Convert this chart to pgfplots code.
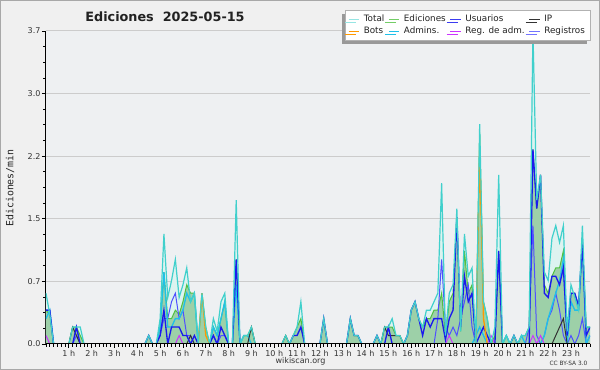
\documentclass[border=0pt]{standalone}
\usepackage{fontspec}
\setmainfont{DejaVu Sans}
\newfontfamily\monofont{DejaVu Sans Mono}
\usepackage{pgfplots}
\pgfplotsset{compat=1.18}
\usetikzlibrary{shadows,backgrounds}
\definecolor{outerbg}{HTML}{F0F0F0}
\definecolor{bordercol}{HTML}{A8A8A8}
\definecolor{plotbg}{HTML}{EEF0F2}
\definecolor{gridcol}{HTML}{CCCCCC}
\definecolor{totalline}{HTML}{40D0CC}
\definecolor{totalfill}{HTML}{DDF3F0}
\definecolor{edline}{HTML}{50C040}
\definecolor{edfill}{HTML}{92CB9C}
\definecolor{usucol}{HTML}{1A1AEE}
\definecolor{ipcol}{HTML}{333333}
\definecolor{botcol}{HTML}{FF9900}
\definecolor{admcol}{HTML}{20C0E8}
\definecolor{regadmcol}{HTML}{CC33FF}
\definecolor{regcol}{HTML}{5050FF}
\definecolor{txtcol}{HTML}{222222}
\definecolor{tickcol}{HTML}{333333}
\begin{document}
\begin{tikzpicture}
\begin{axis}[
  scale only axis, width=408pt, height=234.75pt,
  xmin=0, xmax=143, ymin=0, ymax=3.7,
  axis background/.style={fill=plotbg},
  axis x line*=bottom, axis y line*=left,
  axis line style={black, line width=0.75pt},
  tick align=outside,
  major tick length=3pt, minor tick length=2.2pt,
  every tick/.style={black, line width=0.6pt},
  xtick={6,12,...,138},
  xticklabels={1 h,2 h,3 h,4 h,5 h,6 h,7 h,8 h,9 h,10 h,11 h,12 h,13 h,14 h,15 h,16 h,17 h,18 h,19 h,20 h,21 h,22 h,23 h},
  minor xtick={0,1,...,143},
  ytick={0,0.74,1.48,2.22,2.96,3.7},
  yticklabels={0.0,0.7,1.5,2.2,3.0,3.7},
  minor y tick num=3,
  ymajorgrids, grid style={gridcol, line width=0.75pt},
  xticklabel style={font=\fontsize{6}{6}\selectfont, text=tickcol, inner ysep=1.5pt},
  yticklabel style={font=\fontsize{6}{6}\selectfont, text=tickcol, inner xsep=1pt},
  legend image code/.code={\draw[#1, line width=0.7pt] (0pt,0pt) -- (8pt,0pt);},
  legend columns=4,
  legend cell align=left,
  legend style={at={(1.001,1.067)}, anchor=north east, draw=gray!60, fill=white,
    font=\fontsize{6.6}{7}\selectfont, text=txtcol,
    column sep=1pt, row sep=-1.5pt, inner xsep=2pt, inner ysep=1.5pt,
    drop shadow={shadow xshift=-2.5pt, shadow yshift=-2.5pt, fill=gray!80, opacity=1}},
]
\addlegendimage{color=totalline!55}\addlegendentry{Total}
\addlegendimage{color=edline!80}\addlegendentry{Ediciones}
\addlegendimage{color=usucol!85}\addlegendentry{Usuarios}
\addlegendimage{color=ipcol}\addlegendentry{IP}
\addlegendimage{color=botcol}\addlegendentry{Bots}
\addlegendimage{color=admcol}\addlegendentry{Admins.}
\addlegendimage{color=regadmcol}\addlegendentry{Reg. de adm.}
\addlegendimage{color=regcol!80}\addlegendentry{Registros}

% Total fill
\addplot[draw=none, fill=totalfill, forget plot] coordinates {(0,0.6)(1,0.35)(2,0)(6,0)(7,0.2)(8,0.2)(9,0.2)(10,0)(26,0)(27,0.1)(28,0)(29,0)(30,0.3)(31,1.3)(32,0.55)(33,0.75)(34,1.0)(35,0.55)(36,0.7)(37,0.9)(38,0.5)(39,0.6)(40,0)(41,0.6)(42,0.2)(43,0)(44,0.3)(45,0.15)(46,0.5)(47,0.6)(48,0)(49,0)(50,1.7)(51,0)(52,0.1)(53,0.1)(54,0.2)(55,0)(62,0)(63,0.1)(64,0)(65,0.1)(66,0.2)(67,0.5)(68,0)(72,0)(73,0.3)(74,0)(79,0)(80,0.3)(81,0.1)(82,0.1)(83,0)(86,0)(87,0.1)(88,0)(89,0.2)(90,0.2)(91,0.3)(92,0.1)(93,0.1)(94,0)(95,0.1)(96,0.4)(97,0.5)(98,0.3)(99,0.2)(100,0.4)(101,0.4)(102,0.5)(103,0.6)(104,1.9)(105,0.1)(106,0.6)(107,0.7)(108,1.6)(109,0.15)(110,1.3)(111,0.8)(112,0.9)(113,0)(114,2.6)(115,0.5)(116,0.3)(117,0)(118,0.2)(119,2.0)(120,0)(121,0.1)(122,0)(123,0.1)(124,0)(125,0.1)(126,0.1)(127,0.2)(128,3.7)(129,1.7)(130,2.0)(131,0.85)(132,0.75)(133,1.25)(134,1.4)(135,1.2)(136,1.4)(137,0.15)(138,0.7)(139,0.55)(140,0.4)(141,1.4)(142,0.2)(143,0.2)} \closedcycle;
% Ediciones fill
\addplot[draw=none, fill=edfill, fill opacity=0.85, forget plot] coordinates {(0,0.4)(1,0.35)(2,0)(6,0)(7,0.2)(8,0.2)(9,0.1)(10,0)(26,0)(27,0.1)(28,0)(29,0)(30,0.2)(31,0.85)(32,0.3)(33,0.3)(34,0.4)(35,0.35)(36,0.5)(37,0.7)(38,0.6)(39,0.6)(40,0)(41,0.6)(42,0.2)(43,0)(44,0.2)(45,0.1)(46,0.3)(47,0.5)(48,0)(49,0)(50,1.0)(51,0)(52,0.1)(53,0.1)(54,0.2)(55,0)(62,0)(63,0.1)(64,0)(65,0.1)(66,0.2)(67,0.3)(68,0)(72,0)(73,0.3)(74,0)(79,0)(80,0.3)(81,0.1)(82,0.1)(83,0)(86,0)(87,0.1)(88,0)(89,0.2)(90,0.2)(91,0.2)(92,0.1)(93,0.1)(94,0)(95,0.1)(96,0.4)(97,0.5)(98,0.3)(99,0.2)(100,0.3)(101,0.3)(102,0.4)(103,0.4)(104,0.6)(105,0.1)(106,0.5)(107,0.6)(108,1.5)(109,0.15)(110,1.1)(111,0.6)(112,0.7)(113,0)(114,2.5)(115,0.5)(116,0.3)(117,0)(118,0.1)(119,1.1)(120,0)(121,0.1)(122,0)(123,0.1)(124,0)(125,0.1)(126,0.1)(127,0.2)(128,2.3)(129,1.6)(130,2.0)(131,0.7)(132,0.6)(133,0.8)(134,0.9)(135,0.9)(136,1.1)(137,0.1)(138,0.6)(139,0.6)(140,0.45)(141,1.2)(142,0.2)(143,0.2)} \closedcycle;
% Ediciones line
\addplot[edline, line width=0.75pt, forget plot] coordinates {(0,0.4)(1,0.35)(2,0)(6,0)(7,0.2)(8,0.2)(9,0.1)(10,0)(26,0)(27,0.1)(28,0)(29,0)(30,0.2)(31,0.85)(32,0.3)(33,0.3)(34,0.4)(35,0.35)(36,0.5)(37,0.7)(38,0.6)(39,0.6)(40,0)(41,0.6)(42,0.2)(43,0)(44,0.2)(45,0.1)(46,0.3)(47,0.5)(48,0)(49,0)(50,1.0)(51,0)(52,0.1)(53,0.1)(54,0.2)(55,0)(62,0)(63,0.1)(64,0)(65,0.1)(66,0.2)(67,0.3)(68,0)(72,0)(73,0.3)(74,0)(79,0)(80,0.3)(81,0.1)(82,0.1)(83,0)(86,0)(87,0.1)(88,0)(89,0.2)(90,0.2)(91,0.2)(92,0.1)(93,0.1)(94,0)(95,0.1)(96,0.4)(97,0.5)(98,0.3)(99,0.2)(100,0.3)(101,0.3)(102,0.4)(103,0.4)(104,0.6)(105,0.1)(106,0.5)(107,0.6)(108,1.5)(109,0.15)(110,1.1)(111,0.6)(112,0.7)(113,0)(114,2.5)(115,0.5)(116,0.3)(117,0)(118,0.1)(119,1.1)(120,0)(121,0.1)(122,0)(123,0.1)(124,0)(125,0.1)(126,0.1)(127,0.2)(128,2.3)(129,1.6)(130,2.0)(131,0.7)(132,0.6)(133,0.8)(134,0.9)(135,0.9)(136,1.1)(137,0.1)(138,0.6)(139,0.6)(140,0.45)(141,1.2)(142,0.2)(143,0.2)};
% Registros
\addplot[regcol, line width=0.75pt, forget plot] coordinates {(0,0)(7,0)(8,0.1)(9,0)(29,0)(30,0.1)(31,0.3)(32,0.3)(33,0.5)(34,0.6)(35,0.3)(36,0.4)(37,0.1)(38,0.1)(39,0)(43,0)(44,0.1)(45,0)(46,0.1)(47,0.1)(48,0)(102,0)(103,0.3)(104,1.0)(105,0.2)(106,0.1)(107,0.2)(108,0.1)(109,0.3)(110,0.5)(111,0.7)(112,0.2)(113,0)(126,0)(127,0.2)(128,1.4)(129,0.1)(130,0)(131,0.1)(132,0.3)(133,0.4)(134,0.6)(135,0.4)(136,0.1)(137,0)(138,0.1)(139,0)(140,0.1)(141,0.3)(142,0)(143,0.1)};
% Admins
\addplot[admcol, line width=1pt, forget plot] coordinates {(0,0.3)(1,0.4)(2,0)(29,0)(30,0.2)(31,0.85)(32,0.2)(33,0.2)(34,0.3)(35,0.3)(36,0.4)(37,0.6)(38,0.5)(39,0.6)(40,0)(43,0)(44,0.2)(45,0.1)(46,0.3)(47,0.5)(48,0)(49,0)(50,0.7)(51,0)(52,0.1)(53,0.1)(54,0)(112,0)(113,0.1)(114,0.2)(115,0.1)(116,0)(120,0)(121,0.1)(122,0)(124,0)(125,0.1)(126,0)(130,0)(131,0.1)(132,0.3)(133,0.45)(134,0.6)(135,0.75)(136,1.0)(137,0)(138,0.5)(139,0.4)(140,0.4)(141,1.2)(142,0)(143,0.1)};
% IP
\addplot[ipcol, line width=0.75pt, forget plot] coordinates {(0,0)(6,0)(7,0.2)(8,0.1)(9,0)(37,0)(38,0.1)(39,0)(53,0)(54,0.2)(55,0)(62,0)(63,0.1)(64,0)(88,0)(89,0.2)(90,0.1)(91,0.1)(92,0.1)(93,0.1)(94,0)(133,0)(134,0.1)(135,0.2)(136,0.3)(137,0)(143,0)};
% Reg. de adm.
\addplot[regadmcol, line width=0.75pt, forget plot] coordinates {(0,0.1)(1,0)(34,0)(35,0.1)(36,0)(105,0)(106,0.1)(107,0)(116,0)(117,0.1)(118,0)(127,0)(128,0.1)(129,0)(130,0.1)(131,0)(143,0)};
% Usuarios
\addplot[usucol, line width=1pt, forget plot] coordinates {(0,0.4)(1,0.4)(2,0)(7,0)(8,0.2)(9,0)(26,0)(27,0.1)(28,0)(29,0)(30,0.1)(31,0.4)(32,0)(33,0.2)(34,0.2)(35,0.2)(36,0.1)(37,0.1)(38,0)(39,0.1)(40,0)(43,0)(44,0.1)(45,0)(46,0.2)(47,0.1)(48,0)(49,0)(50,1.0)(51,0)(64,0)(65,0.1)(66,0.1)(67,0.2)(68,0)(72,0)(73,0.3)(74,0)(79,0)(80,0.3)(81,0.1)(82,0.1)(83,0)(86,0)(87,0.1)(88,0)(89,0)(90,0.2)(91,0)(94,0)(95,0.1)(96,0.4)(97,0.5)(98,0.3)(99,0.1)(100,0.3)(101,0.2)(102,0.3)(103,0.3)(104,0.3)(105,0.05)(106,0.3)(107,0.4)(108,1.5)(109,0.2)(110,0.8)(111,0.5)(112,0.6)(113,0)(114,0.1)(115,0.2)(116,0.1)(117,0)(118,0)(119,1.1)(120,0)(122,0)(123,0.1)(124,0)(127,0)(128,2.3)(129,1.6)(130,2.0)(131,0.6)(132,0.55)(133,0.8)(134,0.8)(135,0.7)(136,0.9)(137,0.1)(138,0.6)(139,0.6)(140,0.45)(141,1.2)(142,0.1)(143,0.2)};
% Bots
\addplot[botcol, line width=1pt, forget plot] coordinates {(0,0)(40,0)(41,0.6)(42,0.1)(43,0)(113,0)(114,2.3)(115,0.3)(116,0)(143,0)};
% Total line
\addplot[totalline, line width=0.9pt, forget plot] coordinates {(0,0.6)(1,0.35)(2,0)(6,0)(7,0.2)(8,0.2)(9,0.2)(10,0)(26,0)(27,0.1)(28,0)(29,0)(30,0.3)(31,1.3)(32,0.55)(33,0.75)(34,1.0)(35,0.55)(36,0.7)(37,0.9)(38,0.5)(39,0.6)(40,0)(41,0.6)(42,0.2)(43,0)(44,0.3)(45,0.15)(46,0.5)(47,0.6)(48,0)(49,0)(50,1.7)(51,0)(52,0.1)(53,0.1)(54,0.2)(55,0)(62,0)(63,0.1)(64,0)(65,0.1)(66,0.2)(67,0.5)(68,0)(72,0)(73,0.3)(74,0)(79,0)(80,0.3)(81,0.1)(82,0.1)(83,0)(86,0)(87,0.1)(88,0)(89,0.2)(90,0.2)(91,0.3)(92,0.1)(93,0.1)(94,0)(95,0.1)(96,0.4)(97,0.5)(98,0.3)(99,0.2)(100,0.4)(101,0.4)(102,0.5)(103,0.6)(104,1.9)(105,0.1)(106,0.6)(107,0.7)(108,1.6)(109,0.15)(110,1.3)(111,0.8)(112,0.9)(113,0)(114,2.6)(115,0.5)(116,0.3)(117,0)(118,0.2)(119,2.0)(120,0)(121,0.1)(122,0)(123,0.1)(124,0)(125,0.1)(126,0.1)(127,0.2)(128,3.7)(129,1.7)(130,2.0)(131,0.85)(132,0.75)(133,1.25)(134,1.4)(135,1.2)(136,1.4)(137,0.15)(138,0.7)(139,0.55)(140,0.4)(141,1.4)(142,0.2)(143,0.2)};
\draw[black, line width=0.75pt] (rel axis cs:0,0) -- (rel axis cs:1,0);
\coordinate (O) at (rel axis cs:0,0);
\end{axis}
\begin{scope}[shift={(O)}, x=1pt, y=1pt]
\begin{scope}[on background layer]
\fill[outerbg] (-34.5,-19.5) rectangle (415.5,258);
\draw[bordercol, line width=1pt] (-34,-19) rectangle (415,257.5);
\end{scope}
\node[font=\fontsize{9.6}{10}\selectfont\bfseries, text=txtcol] at (89.25,245.25) {Ediciones\ \ 2025-05-15};
\node[font=\monofont\fontsize{7.4}{8}\selectfont, text=txtcol, rotate=90] at (-27,117) {Ediciones/min};
\node[font=\fontsize{6}{6}\selectfont, text=tickcol] at (190.9,-12.75) {wikiscan.org};
\node[font=\fontsize{4.4}{5}\selectfont, text=tickcol] at (391.9,-14.3) {CC BY-SA 3.0};
\end{scope}
\end{tikzpicture}
\end{document}
